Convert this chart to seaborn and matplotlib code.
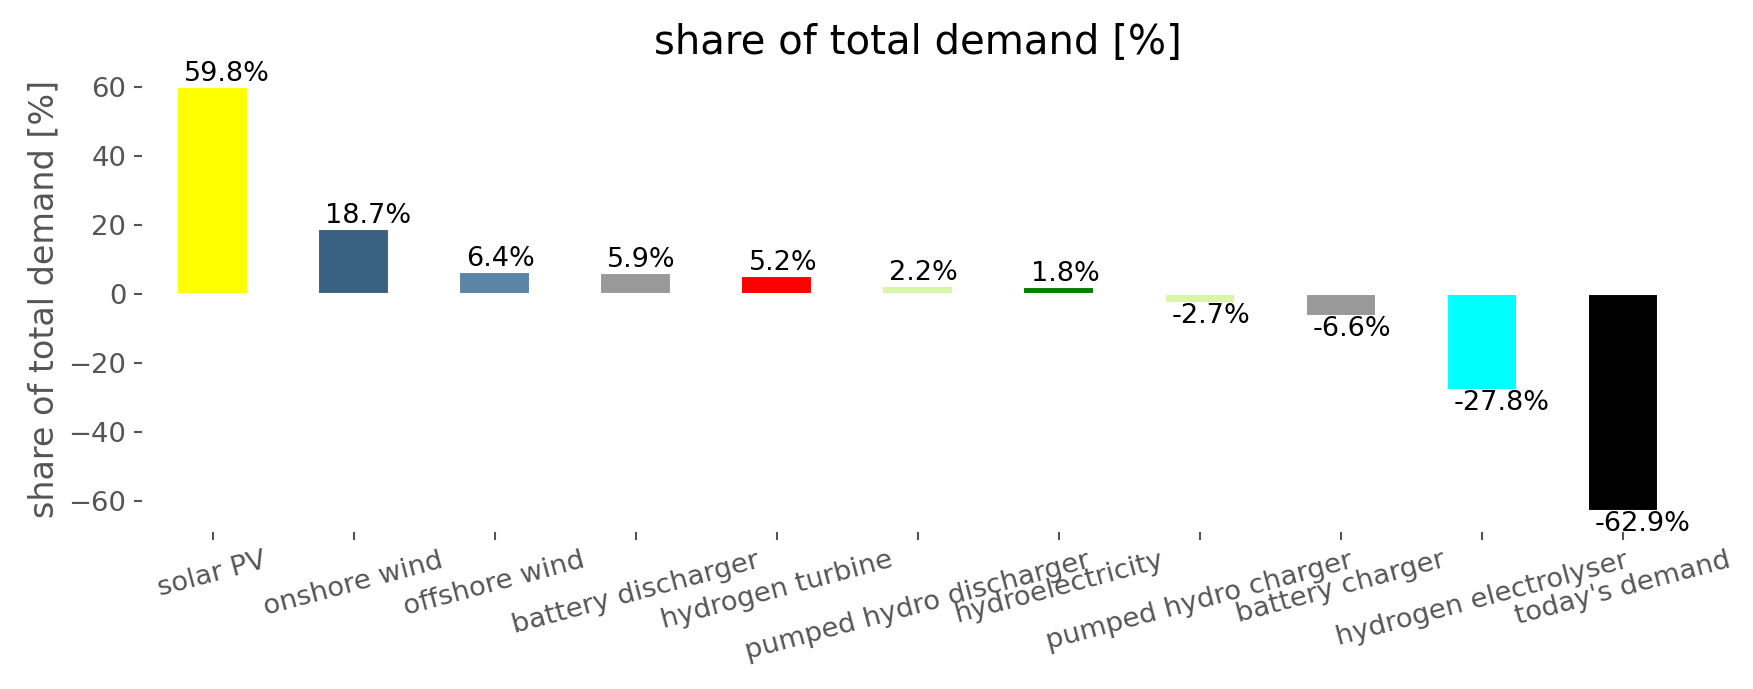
import matplotlib
matplotlib.use("Agg")
import matplotlib.pyplot as plt
import seaborn as sns
import pandas as pd

# data
technologies = [
    "solar PV", "onshore wind", "offshore wind", "battery discharger",
    "hydrogen turbine", "pumped hydro discharger", "hydroelectricity",
    "pumped hydro charger", "battery charger", "hydrogen electrolyser",
    "today's demand",
]
shares = [59.8, 18.7, 6.4, 5.9, 5.2, 2.2, 1.8, -2.7, -6.6, -27.8, -62.9]
colors = [
    "#ffff00", "#3b6182", "#5c84a5", "#999999", "#ff0000", "#d8f5a8",
    "#008000", "#d8f5a8", "#999999", "#00ffff", "#000000",
]

df = pd.DataFrame({"technology": technologies, "share": shares})

sns.set_style("white")
plt.rcParams["font.family"] = ["DejaVu Sans"]

fig, ax = plt.subplots(figsize=(1753 / 150, 689 / 150), dpi=150)
fig.subplots_adjust(left=0.081, right=0.966, top=0.904, bottom=0.228)

sns.barplot(data=df, x="technology", y="share", hue="technology",
            palette=colors, width=0.5, legend=False, saturation=1, ax=ax)

# value labels on the bars
for bar, val in zip(ax.patches, shares):
    va = "bottom" if val >= 0 else "top"
    ax.annotate(f"{val:.1f}%", (bar.get_x() + 0.05, val),
                ha="left", va=va, fontsize=13, color="black")

ax.set_title("share of total demand [%]", fontsize=19.3, color="black")
ax.set_xlabel("")
ax.set_ylabel("share of total demand [%]", fontsize=16, color="#555555")
ax.tick_params(axis="both", colors="#555555", labelsize=13.2,
               length=4, width=1, bottom=True, left=True)
plt.setp(ax.get_xticklabels(), rotation=15)
for s in ax.spines.values():
    s.set_visible(False)

fig.savefig("out.png", dpi=150)
